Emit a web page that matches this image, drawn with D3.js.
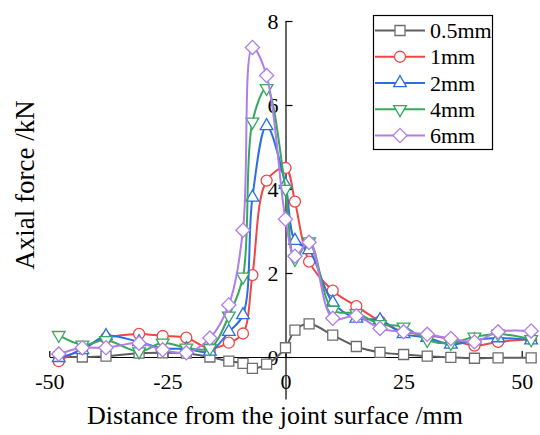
<!DOCTYPE html>
<html>
<head>
<meta charset="utf-8">
<script src="https://cdn.jsdelivr.net/npm/d3@7"></script>
<style>
  html, body { margin: 0; padding: 0; background: #fff; }
  svg { display: block; }
  text { font-family: "Liberation Serif", "Times New Roman", serif; fill: #000; }
</style>
</head>
<body>
<svg id="chart" width="540" height="435"></svg>
<script>
// Measurement positions along the bolt (mm from the joint surface)
const positions = [-48, -43, -38, -31, -26, -21, -16, -12, -9, -7, -4, 0, 2, 5, 10, 15, 20, 25, 30, 35, 40, 45, 52];

// Axial force (kN) for each joint opening
const force05 = [0.0, 0.0, 0.02, 0.09, 0.1, 0.09, 0.0, -0.1, -0.15, -0.27, -0.17, 0.22, 0.64, 0.79, 0.52, 0.25, 0.11, 0.06, 0.02, -0.01, -0.03, -0.02, -0.02];
const force1  = [-0.1, 0.2, 0.45, 0.55, 0.5, 0.46, 0.2, 0.34, 0.56, 1.95, 4.2, 4.5, 3.7, 2.27, 1.58, 1.21, 0.85, 0.6, 0.52, 0.42, 0.27, 0.36, 0.43];
const force2  = [-0.02, 0.17, 0.5, 0.36, 0.21, 0.19, 0.13, 0.6, 1.0, 3.8, 5.5, 4.1, 2.77, 2.55, 1.3, 0.92, 0.88, 0.55, 0.46, 0.3, 0.4, 0.45, 0.4];
const force4  = [0.52, 0.29, 0.4, 0.13, 0.34, 0.22, 0.21, 0.98, 1.91, 5.6, 6.4, 4.0, 2.33, 2.75, 1.12, 1.04, 0.78, 0.72, 0.4, 0.33, 0.48, 0.55, 0.42];
const force6  = [0.07, 0.22, 0.22, 0.33, 0.17, 0.1, 0.45, 1.24, 3.02, 7.37, 6.7, 3.28, 2.4, 2.73, 0.92, 0.98, 0.68, 0.6, 0.54, 0.44, 0.36, 0.6, 0.62];

const seriesNames = ["0.5mm", "1mm", "2mm", "4mm", "6mm"];
const seriesValues = [force05, force1, force2, force4, force6];
const seriesColors = ["#5e5e5e", "#f04646", "#2a70e0", "#38a85e", "#b07ee8"];
const markerColors = ["#6e6e6e", "#f04646", "#2a70e0", "#38a85e", "#b07ee8"];
const seriesMarkers = ["square", "circle", "triangleUp", "triangleDown", "diamond"];

const xTicks = [-50, -25, 0, 25, 50];
const yTicks = [0, 2, 4, 6, 8];

const svg = d3.select("#chart");

const x = d3.scaleLinear().domain([-50, 50]).range([49.3, 521.7]);
const y = d3.scaleLinear().domain([-1, 8]).range([399, 21]);

// Plain hyphen for negative tick labels
const plainNumber = d => String(d);

// Axes cross at the origin
const xAxis = d3.axisBottom(x).tickValues(xTicks).tickFormat(plainNumber)
  .tickSizeInner(-6).tickSizeOuter(0).tickPadding(16);
const gx = svg.append("g").attr("transform", `translate(0,${y(0)})`).call(xAxis);
gx.selectAll("text").style("font-size", "22px").attr("dy", "0.71em");

const yAxis = d3.axisLeft(y).tickValues(yTicks).tickFormat(plainNumber)
  .tickSizeInner(-7).tickSizeOuter(0).tickPadding(7);
const gy = svg.append("g").attr("transform", `translate(${x(0)},0)`).call(yAxis);
gy.selectAll("text").style("font-size", "22px");

[gx, gy].forEach(g => {
  g.select(".domain").attr("stroke", "#000").attr("stroke-width", 1.2);
  g.selectAll(".tick line").attr("stroke", "#000").attr("stroke-width", 1.2);
});

// Axis titles
svg.append("text")
  .attr("x", 275).attr("y", 424)
  .attr("text-anchor", "middle")
  .style("font-size", "26px")
  .text("Distance from the joint surface /mm");

svg.append("text")
  .attr("transform", "translate(34,185) rotate(-90)")
  .attr("text-anchor", "middle")
  .style("font-size", "27px")
  .text("Axial force /kN");

// Marker shapes
function markerPath(kind) {
  switch (kind) {
    case "square": return d3.symbol(d3.symbolSquare, 100)();
    case "circle": return d3.symbol(d3.symbolCircle, 95)();
    case "triangleUp":
    case "triangleDown": return d3.symbol(d3.symbolTriangle, 70)();
    case "diamond": return d3.symbol(d3.symbolSquare, 100)();
  }
}
function markerRotation(kind) {
  if (kind === "triangleDown") return 180;
  if (kind === "diamond") return 45;
  return 0;
}

const line = d3.line()
  .x(d => x(d[0]))
  .y(d => y(d[1]))
  .curve(d3.curveCatmullRom.alpha(0.5));

const plot = svg.append("g");
seriesValues.forEach((vals, i) => {
  const pts = positions.map((p, j) => [p, vals[j]]);
  const g = plot.append("g");
  g.append("path")
    .datum(pts)
    .attr("fill", "none")
    .attr("stroke", seriesColors[i])
    .attr("stroke-width", 2)
    .attr("d", line);
  g.selectAll("path.mk")
    .data(pts)
    .join("path")
    .attr("class", "mk")
    .attr("d", markerPath(seriesMarkers[i]))
    .attr("transform", d => `translate(${x(d[0])},${y(d[1])}) rotate(${markerRotation(seriesMarkers[i])})`)
    .attr("fill", "#fff")
    .attr("stroke", markerColors[i])
    .attr("stroke-width", 1.3);
});

// Legend
const legend = svg.append("g");
legend.append("rect")
  .attr("x", 373.5).attr("y", 15.5)
  .attr("width", 119).attr("height", 134)
  .attr("fill", "#fff").attr("stroke", "#000").attr("stroke-width", 1.2);

const legendRow = d3.scaleLinear().domain([0, 4]).range([30.5, 135.5]);
seriesNames.forEach((name, i) => {
  const ly = legendRow(i);
  legend.append("line")
    .attr("x1", 375).attr("x2", 425).attr("y1", ly).attr("y2", ly)
    .attr("stroke", seriesColors[i]).attr("stroke-width", 2);
  legend.append("path")
    .attr("d", markerPath(seriesMarkers[i]))
    .attr("transform", `translate(400,${ly}) rotate(${markerRotation(seriesMarkers[i])})`)
    .attr("fill", "#fff").attr("stroke", markerColors[i]).attr("stroke-width", 1.3);
  legend.append("text")
    .attr("x", 430).attr("y", ly + 7.5)
    .style("font-size", "22px")
    .text(name);
});
</script>
</body>
</html>
